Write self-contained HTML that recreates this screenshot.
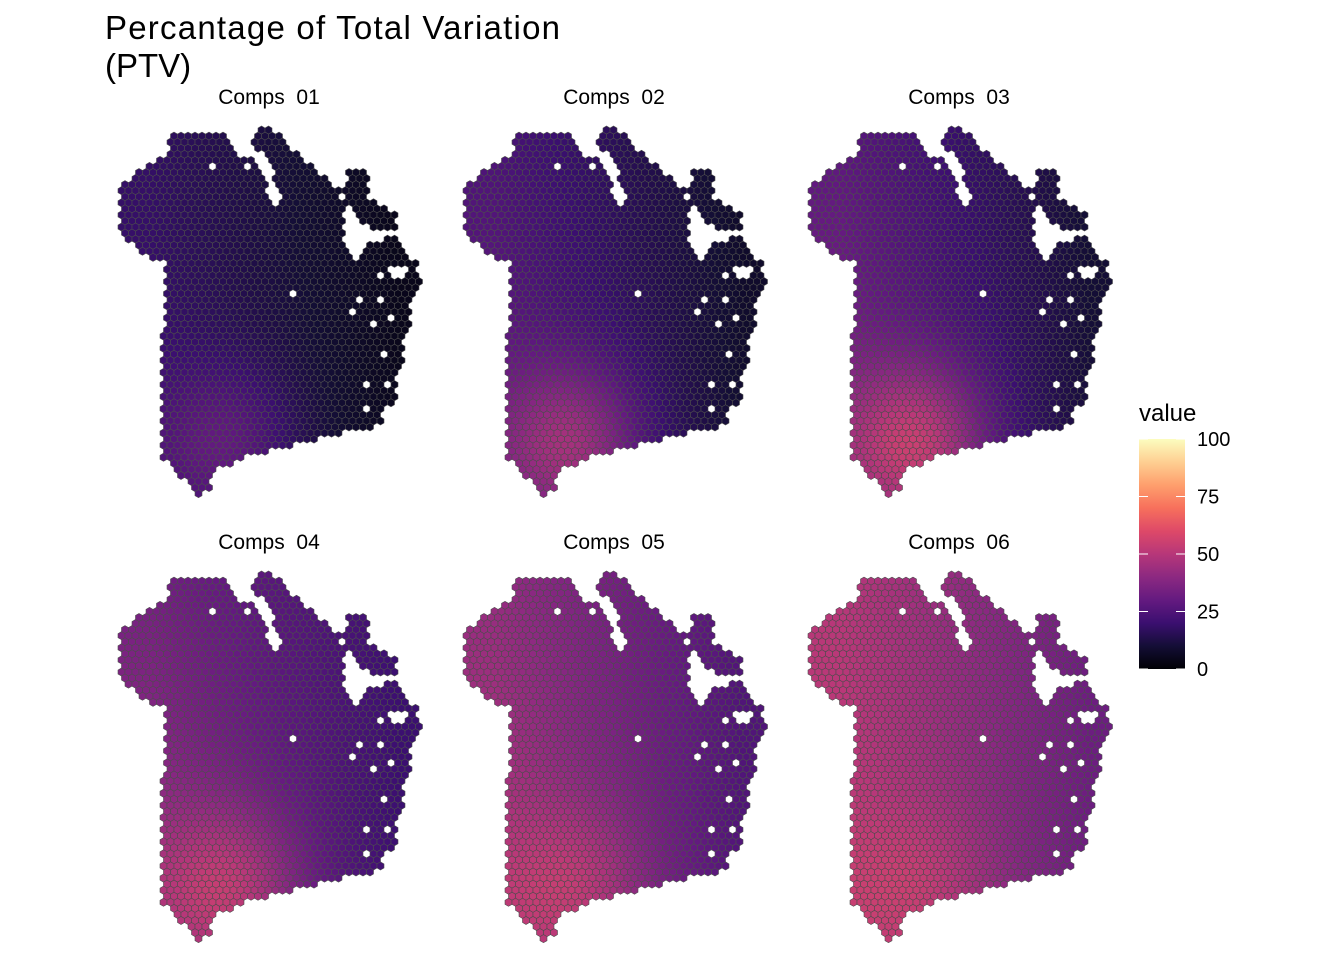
<!DOCTYPE html>
<html><head><meta charset="utf-8">
<style>
body{margin:0;background:#fff;}
svg{display:block;font-family:"Liberation Sans",Arial,sans-serif;}
text{white-space:pre;}
</style></head>
<body>
<svg id="chart" width="1344" height="960" viewBox="0 0 1344 960">
<defs>
<linearGradient id="magma" x1="0" y1="1" x2="0" y2="0">
<stop offset="0" stop-color="#000004"/><stop offset="0.1" stop-color="#140e36"/><stop offset="0.2" stop-color="#3b0f70"/><stop offset="0.3" stop-color="#641a80"/><stop offset="0.4" stop-color="#8c2981"/><stop offset="0.5" stop-color="#b73779"/><stop offset="0.6" stop-color="#de4968"/><stop offset="0.7" stop-color="#f7705c"/><stop offset="0.8" stop-color="#fe9f6d"/><stop offset="0.9" stop-color="#fecf92"/><stop offset="1" stop-color="#fcfdbf"/>
</linearGradient>
</defs>
<text x="105" y="39" font-size="33" textLength="455" fill="#000">Percantage of Total Variation</text>
<text x="105" y="77" font-size="33" fill="#000">(PTV)</text>
<g id="panels"></g>
<g>
<text x="1139" y="421" font-size="24" fill="#000">value</text>
<rect x="1139" y="439" width="46" height="230" fill="url(#magma)"/>
<g id="legticks"></g>
</g>
</svg>
<script>
const panelTitles=["Comps  01","Comps  02","Comps  03","Comps  04","Comps  05","Comps  06"];
const valTopLeft=[18,24,28,34,42,50];
const valTopRight=[4,7,9,20,25,32];
const valBottomLeft=[20,30,36,42,48,52];
const valBottomRight=[5,9,11,20,25,32];
const valPeak=[14,22,26,18,12,8];
const legendTicks=[0,25,50,75,100];

const NS="http://www.w3.org/2000/svg";
const stops=["#000004","#140e36","#3b0f70","#641a80","#8c2981","#b73779","#de4968","#f7705c","#fe9f6d","#fecf92","#fcfdbf"];
function hex2rgb(h){return [1,3,5].map(i=>parseInt(h.substr(i,2),16));}
function magma(v){let t=Math.max(0,Math.min(1,v/100))*10;let i=Math.min(9,Math.floor(t));let f=t-i;
 const a=hex2rgb(stops[i]),b=hex2rgb(stops[i+1]);return `rgb(${a.map((x,k)=>Math.round(x+(b[k]-x)*f)).join(',')})`;}
const outline=[[168,136],[224,136],[236,152],[238,166],[262,168],[272,203],[281,203],[279,186],[266,160],[251,138],[267,125],[283,137],[292,150],[320,173],[337,187],[343,200],[347,168],[368,168],[370,197],[398,215],[396,228],[383,231],[363,226],[360,246],[400,236],[407,258],[418,262],[421,288],[412,294],[412,320],[404,334],[404,357],[398,367],[398,393],[384,414],[380,425],[290,446],[250,456],[212,470],[212,490],[200,496],[190,485],[175,472],[162,456],[161,440],[165,262],[148,256],[121,233],[120,190],[130,178],[158,160],[168,155]];
const notches=[[[343,203],[361,220],[364,253],[357,259],[343,243]],[[388,264],[406,268],[404,282],[388,280]]];
const extraCells=[[243,158],[250,158],[254,164]];
const holes=[[210,168],[293,292],[230,337],[358,297],[380,302],[352,310],[367,320],[373,322],[379,277],[393,320],[387,353],[365,383],[385,387],[365,407]];
function inPoly(x,y,p){let c=false;for(let i=0,j=p.length-1;i<p.length;j=i++){const[xi,yi]=p[i],[xj,yj]=p[j];
 if((yi>y)!=(yj>y)&&x<(xj-xi)*(y-yi)/(yj-yi)+xi)c=!c;}return c;}
const r=4.04;
const hexPts=[];for(let k=0;k<6;k++){const a=Math.PI/6+k*Math.PI/3;hexPts.push([r*Math.cos(a),r*Math.sin(a)]);}
const cells=[];
for(let row=0;row<66;row++){const y=124+row*6.06;for(let c=0;c<46;c++){const x=118+c*7+(row%2)*3.5;
 const extra=extraCells.some(e=>Math.hypot(e[0]-x,e[1]-y)<4);
 if(!extra){if(!inPoly(x,y,outline))continue;if(notches.some(n=>inPoly(x,y,n)))continue;}
 if(holes.some(h=>Math.hypot(h[0]-x,h[1]-y)<3.6))continue;cells.push([x,y]);}}
const g=document.getElementById('panels');
for(let p=0;p<6;p++){
 const ox=(p%3)*345,oy=Math.floor(p/3)*445;
 const pg=document.createElementNS(NS,'g');
 
 
 const t=document.createElementNS(NS,'text');
 t.setAttribute('x',269+ox);t.setAttribute('y',104+oy);t.setAttribute('font-size','21');t.setAttribute('text-anchor','middle');
 t.textContent=panelTitles[p];
 
 
 pg.appendChild(t);
 for(const[x,y]of cells){
  const u=Math.max(0,Math.min(1,(x-150)/250)),w=Math.max(0,Math.min(1,(y-140)/300));
  let v=valTopLeft[p]*(1-u)*(1-w)+valTopRight[p]*u*(1-w)+valBottomLeft[p]*(1-u)*w+valBottomRight[p]*u*w;
  const d2=((x-228)*(x-228))/(70*70)+((y-445)*(y-445))/(80*80);
  v+=valPeak[p]*Math.exp(-d2);
  const poly=document.createElementNS(NS,'polygon');
  poly.setAttribute('points',hexPts.map(q=>(x+ox+q[0]).toFixed(2)+','+(y+oy+q[1]).toFixed(2)).join(' '));
  poly.setAttribute('fill',magma(v));poly.setAttribute('stroke','#4d4d4d');poly.setAttribute('stroke-width','0.6');
  
  
  pg.appendChild(poly);
 }
 g.appendChild(pg);
}
const lt=document.getElementById('legticks');
for(const v of legendTicks){const y=669-v/100*230;
 const l=document.createElementNS(NS,'line');l.setAttribute('x1',1139);l.setAttribute('x2',1148);l.setAttribute('y1',y);l.setAttribute('y2',y);l.setAttribute('stroke','#fff');
 
 
 lt.appendChild(l);
 const l2=l.cloneNode();l2.setAttribute('x1',1176);l2.setAttribute('x2',1185);lt.appendChild(l2);
 const t=document.createElementNS(NS,'text');t.setAttribute('x',1197);t.setAttribute('y',y+7);t.setAttribute('font-size','20');t.textContent=v;
 
 
 lt.appendChild(t);}
</script>
</body></html>
